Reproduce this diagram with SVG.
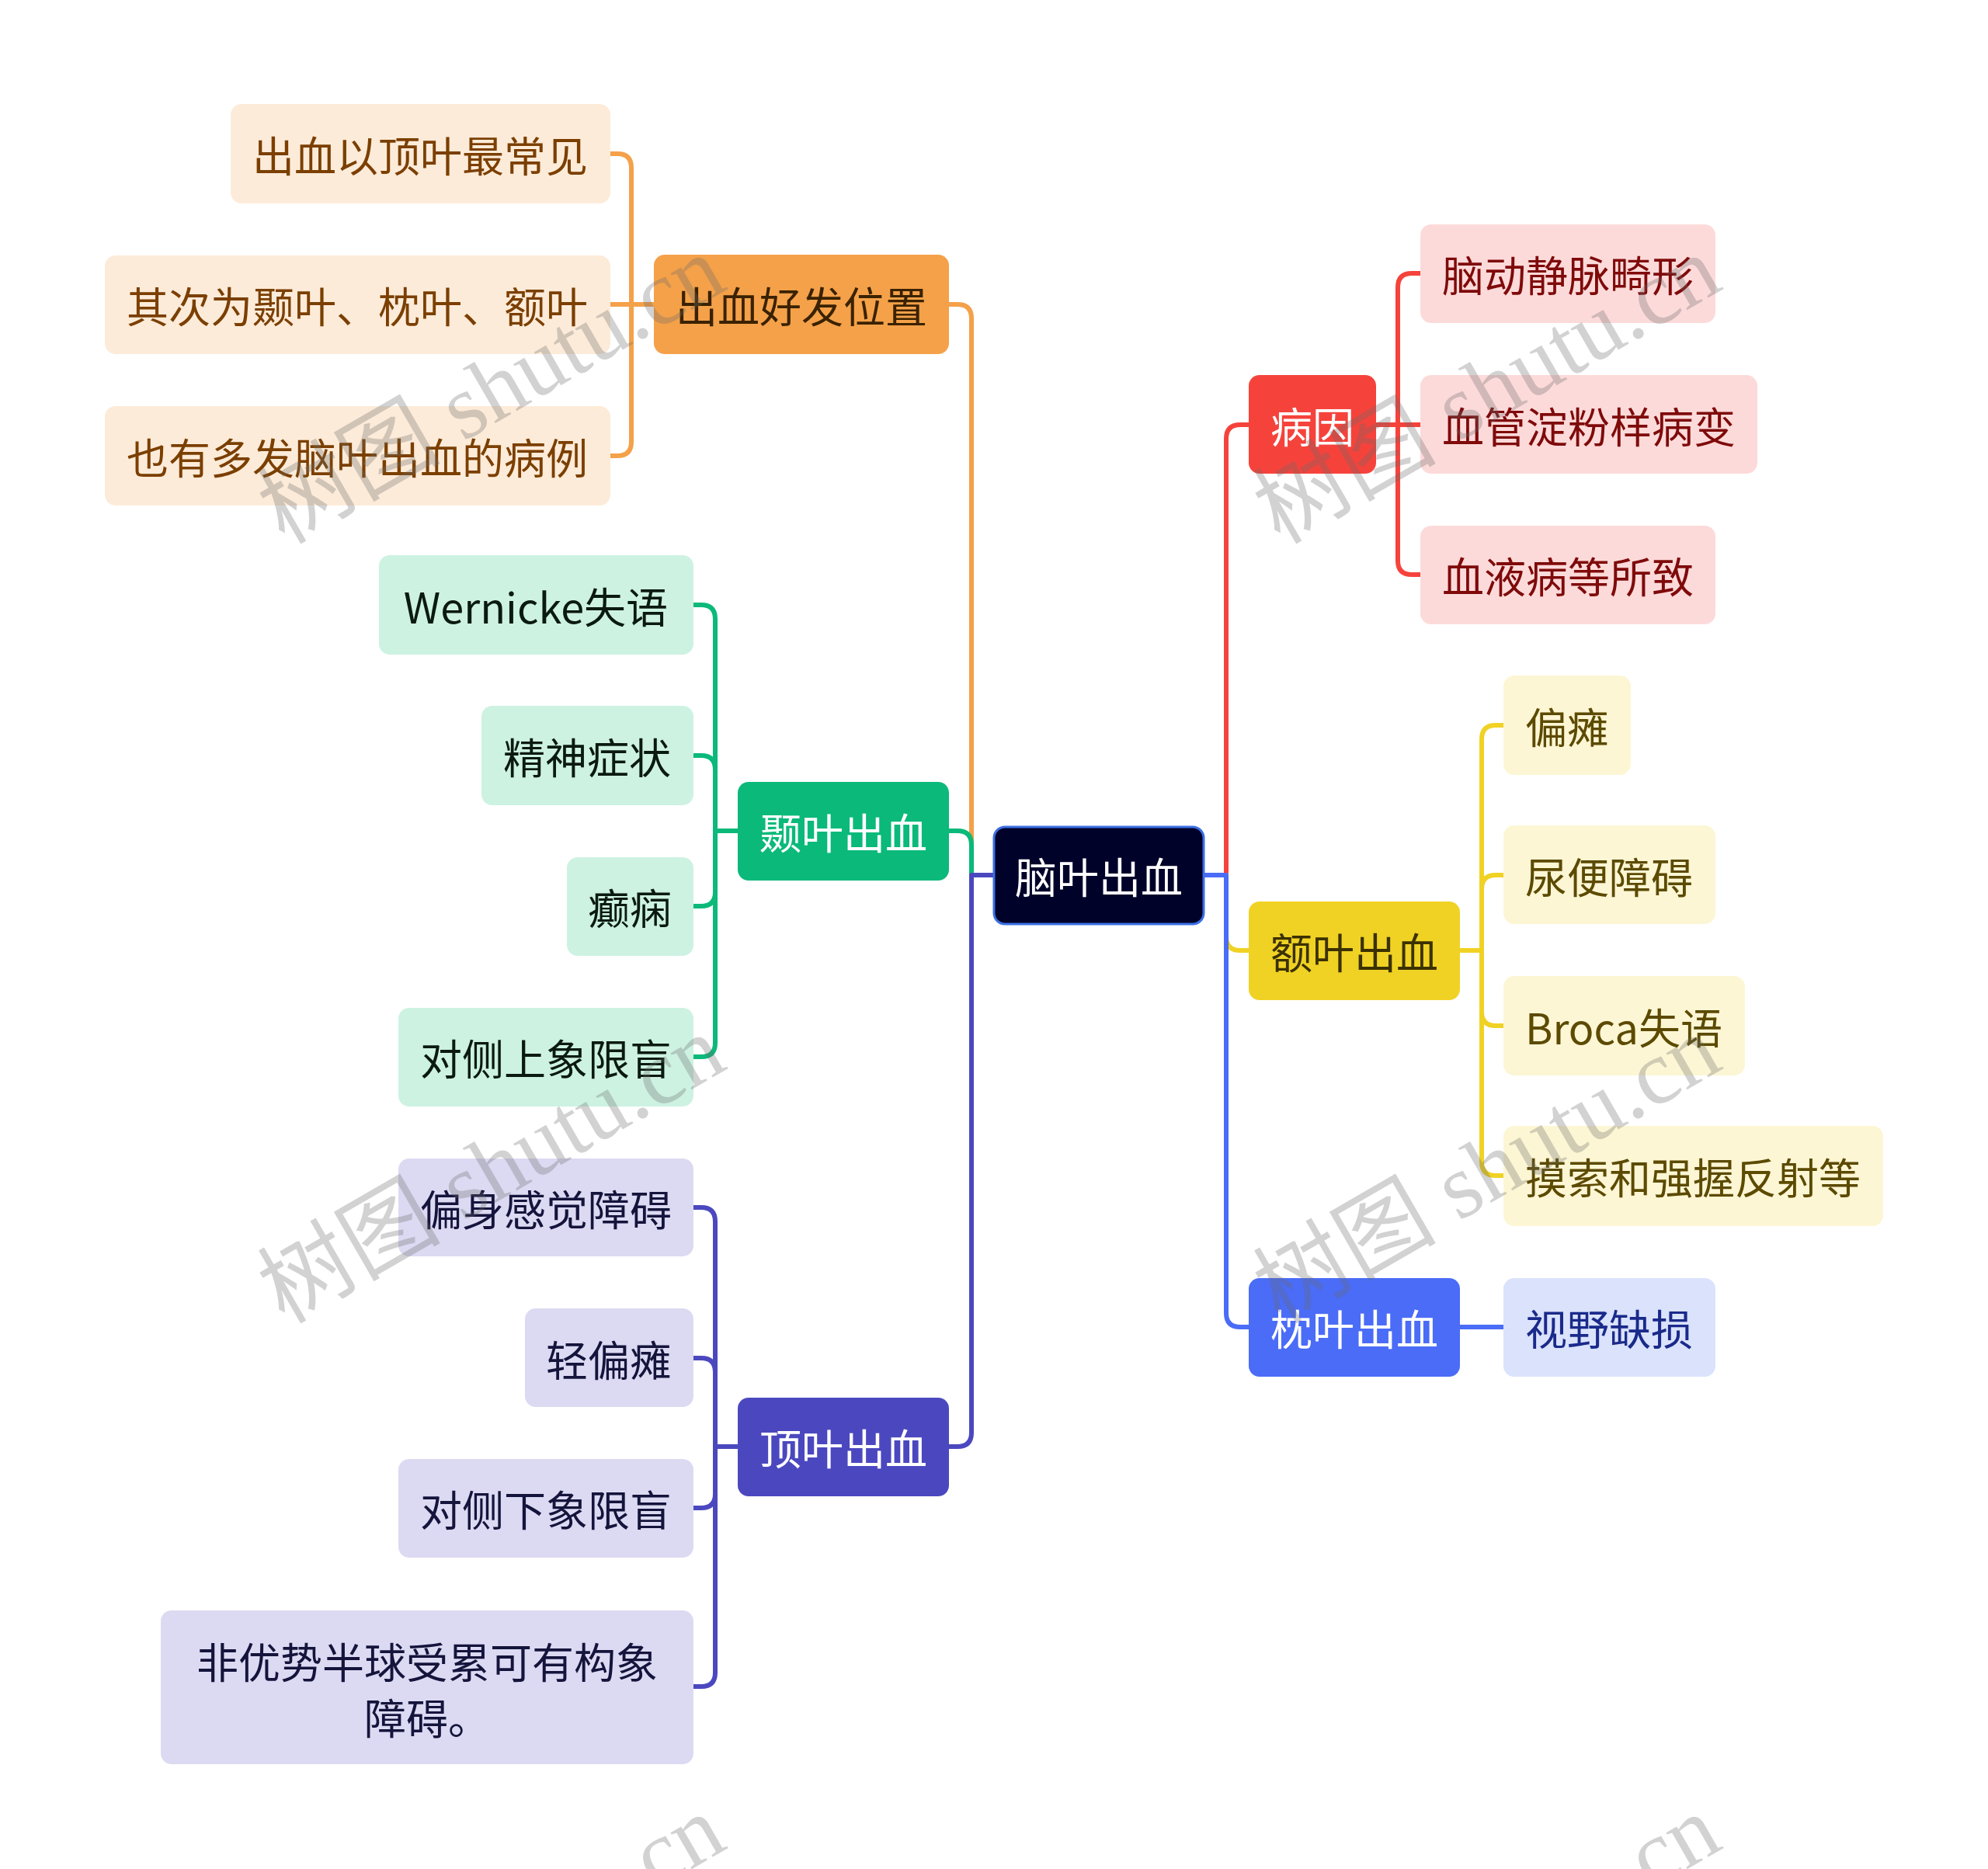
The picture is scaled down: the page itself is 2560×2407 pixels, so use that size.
<svg xmlns="http://www.w3.org/2000/svg" xmlns:xlink="http://www.w3.org/1999/xlink" width="2560" height="2407" viewBox="0 0 2560 2407">
<style>
text{font-family:"Noto Sans CJK SC","Noto Sans",sans-serif;font-size:54px;text-anchor:middle;dominant-baseline:central}
.c{fill:none;stroke-width:6;stroke-linejoin:round}
.wm{font-family:"Liberation Serif","Noto Sans CJK SC",serif;font-size:118px;fill:#6a6a6a;fill-opacity:0.3;text-anchor:start;dominant-baseline:alphabetic}
</style>
<defs>
<g id="wmark"><text class="wm" transform="translate(366,702) rotate(-30)">树图 shutu.cn</text></g>
</defs>
<rect width="2560" height="2407" fill="#fff"/>
<g id="connectors">
<path class="c" stroke="#f4a14a" d="M1279,1127 H1251 V410 Q1251,392 1233,392 H1222"/>
<path class="c" stroke="#0bb97a" d="M1279,1127 H1251 V1088 Q1251,1070 1233,1070 H1222"/>
<path class="c" stroke="#4b48bf" d="M1279,1127 H1251 V1845 Q1251,1863 1233,1863 H1222"/>
<path class="c" stroke="#f5433c" d="M1551,1127 H1579 V565 Q1579,547 1597,547 H1608"/>
<path class="c" stroke="#f0d224" d="M1551,1127 H1579 V1206 Q1579,1224 1597,1224 H1608"/>
<path class="c" stroke="#4a6cf7" d="M1551,1127 H1579 V1691 Q1579,1709 1597,1709 H1608"/>
<g stroke="#f4a14a">
<path class="c" d="M842,392 H813 V216 Q813,198 795,198 H786"/>
<path class="c" d="M842,392 H786"/>
<path class="c" d="M842,392 H813 V569 Q813,587 795,587 H786"/>
</g>
<g stroke="#0bb97a">
<path class="c" d="M950,1070 H921 V797 Q921,779 903,779 H893"/>
<path class="c" d="M950,1070 H921 V991 Q921,973 903,973 H893"/>
<path class="c" d="M950,1070 H921 V1149 Q921,1167 903,1167 H893"/>
<path class="c" d="M950,1070 H921 V1343 Q921,1361 903,1361 H893"/>
</g>
<g stroke="#4b48bf">
<path class="c" d="M950,1863 H921 V1573 Q921,1555 903,1555 H893"/>
<path class="c" d="M950,1863 H921 V1767 Q921,1749 903,1749 H893"/>
<path class="c" d="M950,1863 H921 V1924 Q921,1942 903,1942 H893"/>
<path class="c" d="M950,1863 H921 V2154 Q921,2172 903,2172 H893"/>
</g>
<g stroke="#f5433c">
<path class="c" d="M1772,547 H1800 V370 Q1800,352 1818,352 H1829"/>
<path class="c" d="M1772,547 H1829"/>
<path class="c" d="M1772,547 H1800 V722 Q1800,740 1818,740 H1829"/>
</g>
<g stroke="#f0d224">
<path class="c" d="M1880,1224 H1908 V952 Q1908,934 1926,934 H1936"/>
<path class="c" d="M1880,1224 H1908 V1145 Q1908,1127 1926,1127 H1936"/>
<path class="c" d="M1880,1224 H1908 V1303 Q1908,1321 1926,1321 H1936"/>
<path class="c" d="M1880,1224 H1908 V1496 Q1908,1514 1926,1514 H1936"/>
</g>
<path class="c" stroke="#4a6cf7" d="M1880,1709 H1936"/>
</g>

<g id="root"><rect x="1280" y="1065" width="270" height="125" rx="14" fill="#00022a" stroke="#3b6fe3" stroke-width="3"/><text x="1415" y="1127" fill="#fff">脑叶出血</text></g>

<g id="n-pos"><rect x="842" y="328" width="380" height="128" rx="14" fill="#f4a14a"/><text x="1032" y="392" fill="#3a2200">出血好发位置</text></g>
<g id="n-pos-1"><rect x="297" y="134" width="489" height="128" rx="14" fill="#fdebd9"/><text x="541" y="198" fill="#7b3f00">出血以顶叶最常见</text></g>
<g id="n-pos-2"><rect x="135" y="329" width="651" height="127" rx="14" fill="#fdebd9"/><text x="460" y="392" fill="#7b3f00">其次为颞叶、枕叶、额叶</text></g>
<g id="n-pos-3"><rect x="135" y="523" width="651" height="128" rx="14" fill="#fdebd9"/><text x="460" y="587" fill="#7b3f00">也有多发脑叶出血的病例</text></g>

<g id="n-temp"><rect x="950" y="1007" width="272" height="127" rx="14" fill="#0bb97a"/><text x="1086" y="1070" fill="#fff">颞叶出血</text></g>
<g id="n-temp-1"><rect x="488" y="715" width="405" height="128" rx="14" fill="#cdf2e2"/><text x="690" y="779" fill="#0b1a10">Wernicke失语</text></g>
<g id="n-temp-2"><rect x="620" y="909" width="273" height="128" rx="14" fill="#cdf2e2"/><text x="756" y="973" fill="#0b1a10">精神症状</text></g>
<g id="n-temp-3"><rect x="730" y="1104" width="163" height="127" rx="14" fill="#cdf2e2"/><text x="811" y="1167" fill="#0b1a10">癫痫</text></g>
<g id="n-temp-4"><rect x="513" y="1298" width="380" height="127" rx="14" fill="#cdf2e2"/><text x="703" y="1361" fill="#0b1a10">对侧上象限盲</text></g>

<g id="n-par"><rect x="950" y="1800" width="272" height="127" rx="14" fill="#4b48bf"/><text x="1086" y="1863" fill="#fff">顶叶出血</text></g>
<g id="n-par-1"><rect x="513" y="1492" width="380" height="126" rx="14" fill="#dcdaf2"/><text x="703" y="1555" fill="#14143c">偏身感觉障碍</text></g>
<g id="n-par-2"><rect x="676" y="1685" width="217" height="127" rx="14" fill="#dcdaf2"/><text x="784" y="1749" fill="#14143c">轻偏瘫</text></g>
<g id="n-par-3"><rect x="513" y="1879" width="380" height="127" rx="14" fill="#dcdaf2"/><text x="703" y="1942" fill="#14143c">对侧下象限盲</text></g>
<g id="n-par-4"><rect x="207" y="2074" width="686" height="198" rx="14" fill="#dcdaf2"/><text x="550" y="2138" fill="#14143c">非优势半球受累可有构象</text><text x="550" y="2210" fill="#14143c">障碍。</text></g>

<g id="n-cause"><rect x="1608" y="483" width="164" height="127" rx="14" fill="#f5433c"/><text x="1690" y="547" fill="#fff">病因</text></g>
<g id="n-cause-1"><rect x="1829" y="289" width="380" height="127" rx="14" fill="#fddada"/><text x="2019" y="352" fill="#7f0a0a">脑动静脉畸形</text></g>
<g id="n-cause-2"><rect x="1829" y="483" width="434" height="127" rx="14" fill="#fddada"/><text x="2046" y="547" fill="#7f0a0a">血管淀粉样病变</text></g>
<g id="n-cause-3"><rect x="1829" y="677" width="380" height="127" rx="14" fill="#fddada"/><text x="2019" y="740" fill="#7f0a0a">血液病等所致</text></g>

<g id="n-front"><rect x="1608" y="1161" width="272" height="127" rx="14" fill="#f0d224"/><text x="1744" y="1224" fill="#3b3100">额叶出血</text></g>
<g id="n-front-1"><rect x="1936" y="870" width="164" height="128" rx="14" fill="#fcf6d4"/><text x="2018" y="934" fill="#5c4a00">偏瘫</text></g>
<g id="n-front-2"><rect x="1936" y="1063" width="273" height="127" rx="14" fill="#fcf6d4"/><text x="2072" y="1127" fill="#5c4a00">尿便障碍</text></g>
<g id="n-front-3"><rect x="1936" y="1257" width="311" height="128" rx="14" fill="#fcf6d4"/><text x="2091" y="1321" fill="#5c4a00">Broca失语</text></g>
<g id="n-front-4"><rect x="1936" y="1450" width="489" height="129" rx="14" fill="#fcf6d4"/><text x="2180" y="1514" fill="#5c4a00">摸索和强握反射等</text></g>

<g id="n-occ"><rect x="1608" y="1646" width="272" height="127" rx="14" fill="#4a6cf7"/><text x="1744" y="1709" fill="#fff">枕叶出血</text></g>
<g id="n-occ-1"><rect x="1936" y="1646" width="273" height="127" rx="14" fill="#dae2fc"/><text x="2072" y="1709" fill="#1a2a8a">视野缺损</text></g>

<g id="watermark">
<use xlink:href="#wmark"/>
<use xlink:href="#wmark" x="1282" y="0"/>
<use xlink:href="#wmark" x="0" y="1004"/>
<use xlink:href="#wmark" x="1282" y="1004"/>
<use xlink:href="#wmark" x="0" y="2008"/>
<use xlink:href="#wmark" x="1282" y="2008"/>
</g>
</svg>
